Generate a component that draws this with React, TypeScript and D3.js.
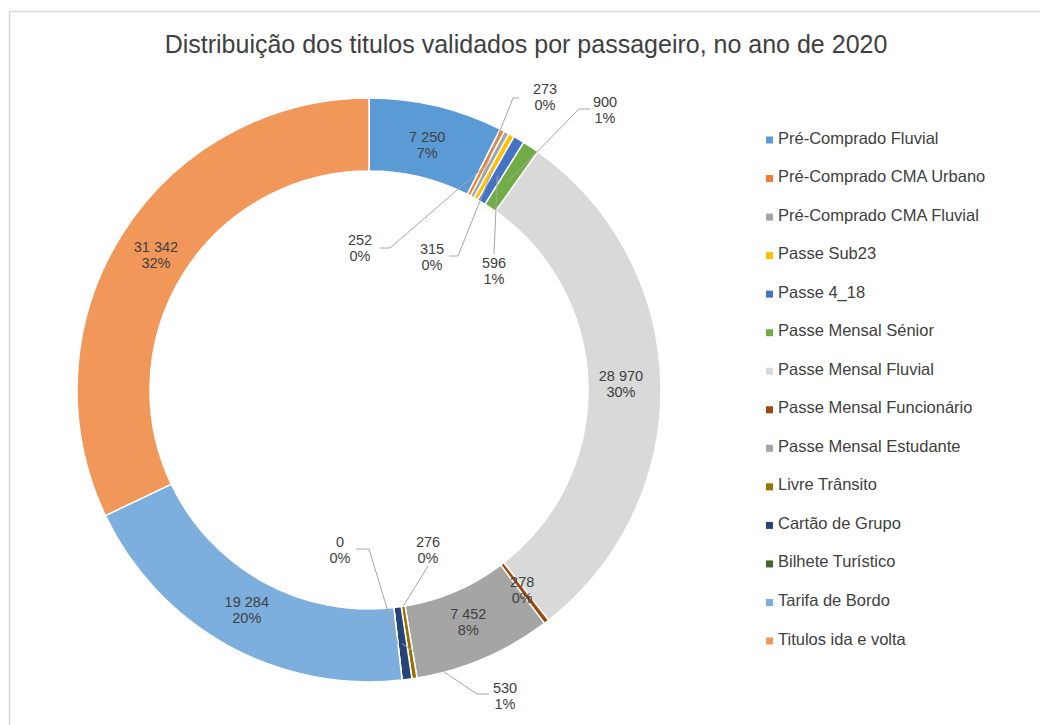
import React from 'react';
import * as d3 from 'd3';

const title = 'Distribuição dos titulos validados por passageiro, no ano de 2020';

const categories = [
  'Pré-Comprado Fluvial',
  'Pré-Comprado CMA Urbano',
  'Pré-Comprado CMA Fluvial',
  'Passe Sub23',
  'Passe 4_18',
  'Passe Mensal Sénior',
  'Passe Mensal Fluvial',
  'Passe Mensal Funcionário',
  'Passe Mensal Estudante',
  'Livre Trânsito',
  'Cartão de Grupo',
  'Bilhete Turístico',
  'Tarifa de Bordo',
  'Titulos ida e volta',
];

const values = [7250, 252, 273, 315, 596, 900, 28970, 278, 7452, 276, 530, 0, 19284, 31342];

const colors = [
  '#5b9bd5', '#ed7d31', '#a5a5a5', '#ffc000', '#4472c4', '#70ad47', '#d9d9d9',
  '#9e480e', '#a5a5a5', '#997300', '#264478', '#43682b', '#7cafdd', '#f1975a',
];

// labels moved out of the ring, with their leader lines
const callouts = {
  'Pré-Comprado CMA Urbano': { label: [360, 248], start: [380, 248], elbow: [390, 248], r: 250 },
  'Pré-Comprado CMA Fluvial': { label: [545, 97], start: [519, 98], elbow: [513, 98], r: 232 },
  'Passe Sub23': { label: [432, 257], start: [449, 256], elbow: [458, 256], r: 255 },
  'Passe 4_18': { label: [494, 271], start: [494, 254], elbow: null, r: 250 },
  'Passe Mensal Sénior': { label: [605, 110], start: [590, 109], elbow: [579, 109], r: 250 },
  'Livre Trânsito': { label: [428, 550], start: [428, 566], elbow: null, r: 219 },
  'Cartão de Grupo': { label: [505, 696], start: [489, 694], elbow: [477, 694], r: 256 },
  'Bilhete Turístico': { label: [340, 550], start: [356, 549], elbow: [369, 549], r: 256 },
};

const width = 1040;
const height = 725;
const cx = 369;
const cy = 390;
const outerR = 292;
const innerR = 219;
const font = 'Arial, "Liberation Sans", sans-serif';
const textColor = '#404040';

const fmtNum = (v: number) => d3.format(',')(v).replace(/,/g, ' ');

export default function App() {
  const total = d3.sum(values);
  const data = categories.map((c, i) => ({ name: c, value: values[i], color: colors[i] }));

  const pie = d3.pie<any>().sort(null).value(d => d.value).startAngle(0).endAngle(2 * Math.PI);
  const arcs = pie(data);
  const arc = d3.arc<any>().innerRadius(innerR).outerRadius(outerR);
  const labelArc = d3.arc<any>().innerRadius(252).outerRadius(252);

  const legendY = d3.scalePoint().domain(categories).range([137.5, 638.5]);

  const twoLines = (x: number, y: number, a: string, b: string, key: string) => (
    <text key={key} x={x} y={y} textAnchor="middle" fontSize={14.5} fill={textColor} fontFamily={font}>
      <tspan x={x} dy={-3}>{a}</tspan>
      <tspan x={x} dy={16}>{b}</tspan>
    </text>
  );

  return (
    <svg width={width} height={height} style={{ position: 'absolute', left: 0, top: 0, background: '#fff' }}>
      <rect x={9.5} y={11.5} width={width + 10} height={height + 10} fill="#fff" stroke="#d9d9d9" strokeWidth={1.5} />
      <text x={526} y={53} textAnchor="middle" fontSize={25} fill={textColor} fontFamily={font}>{title}</text>

      <g transform={`translate(${cx},${cy})`}>
        {arcs.map(a => (
          <path key={a.data.name} d={arc(a) || ''} fill={a.data.color} stroke="#fff" strokeWidth={1.5} />
        ))}
      </g>

      {arcs.map(a => {
        const c = (callouts as any)[a.data.name];
        if (!c) return null;
        const mid = (a.startAngle + a.endAngle) / 2;
        const end = [cx + c.r * Math.sin(mid), cy - c.r * Math.cos(mid)];
        const pts = [c.start, ...(c.elbow ? [c.elbow] : []), end];
        return <path key={'l' + a.data.name} d={d3.line()(pts as any) || ''} fill="none" stroke="#a6a6a6" strokeWidth={1} />;
      })}

      {arcs.map(a => {
        const c = (callouts as any)[a.data.name];
        const pct = Math.round((a.data.value / total) * 100) + '%';
        const num = fmtNum(a.data.value);
        if (c) return twoLines(c.label[0], c.label[1], num, pct, 't' + a.data.name);
        const [x, y] = labelArc.centroid(a);
        return twoLines(cx + x, cy + y, num, pct, 't' + a.data.name);
      })}

      <g>
        {data.map(d => (
          <g key={'g' + d.name} transform={`translate(0,${legendY(d.name)})`}>
            <rect x={766} y={-1} width={7} height={7} fill={d.color} />
            <text x={778} y={6} fontSize={16.5} fill={textColor} fontFamily={font}>{d.name}</text>
          </g>
        ))}
      </g>
    </svg>
  );
}
